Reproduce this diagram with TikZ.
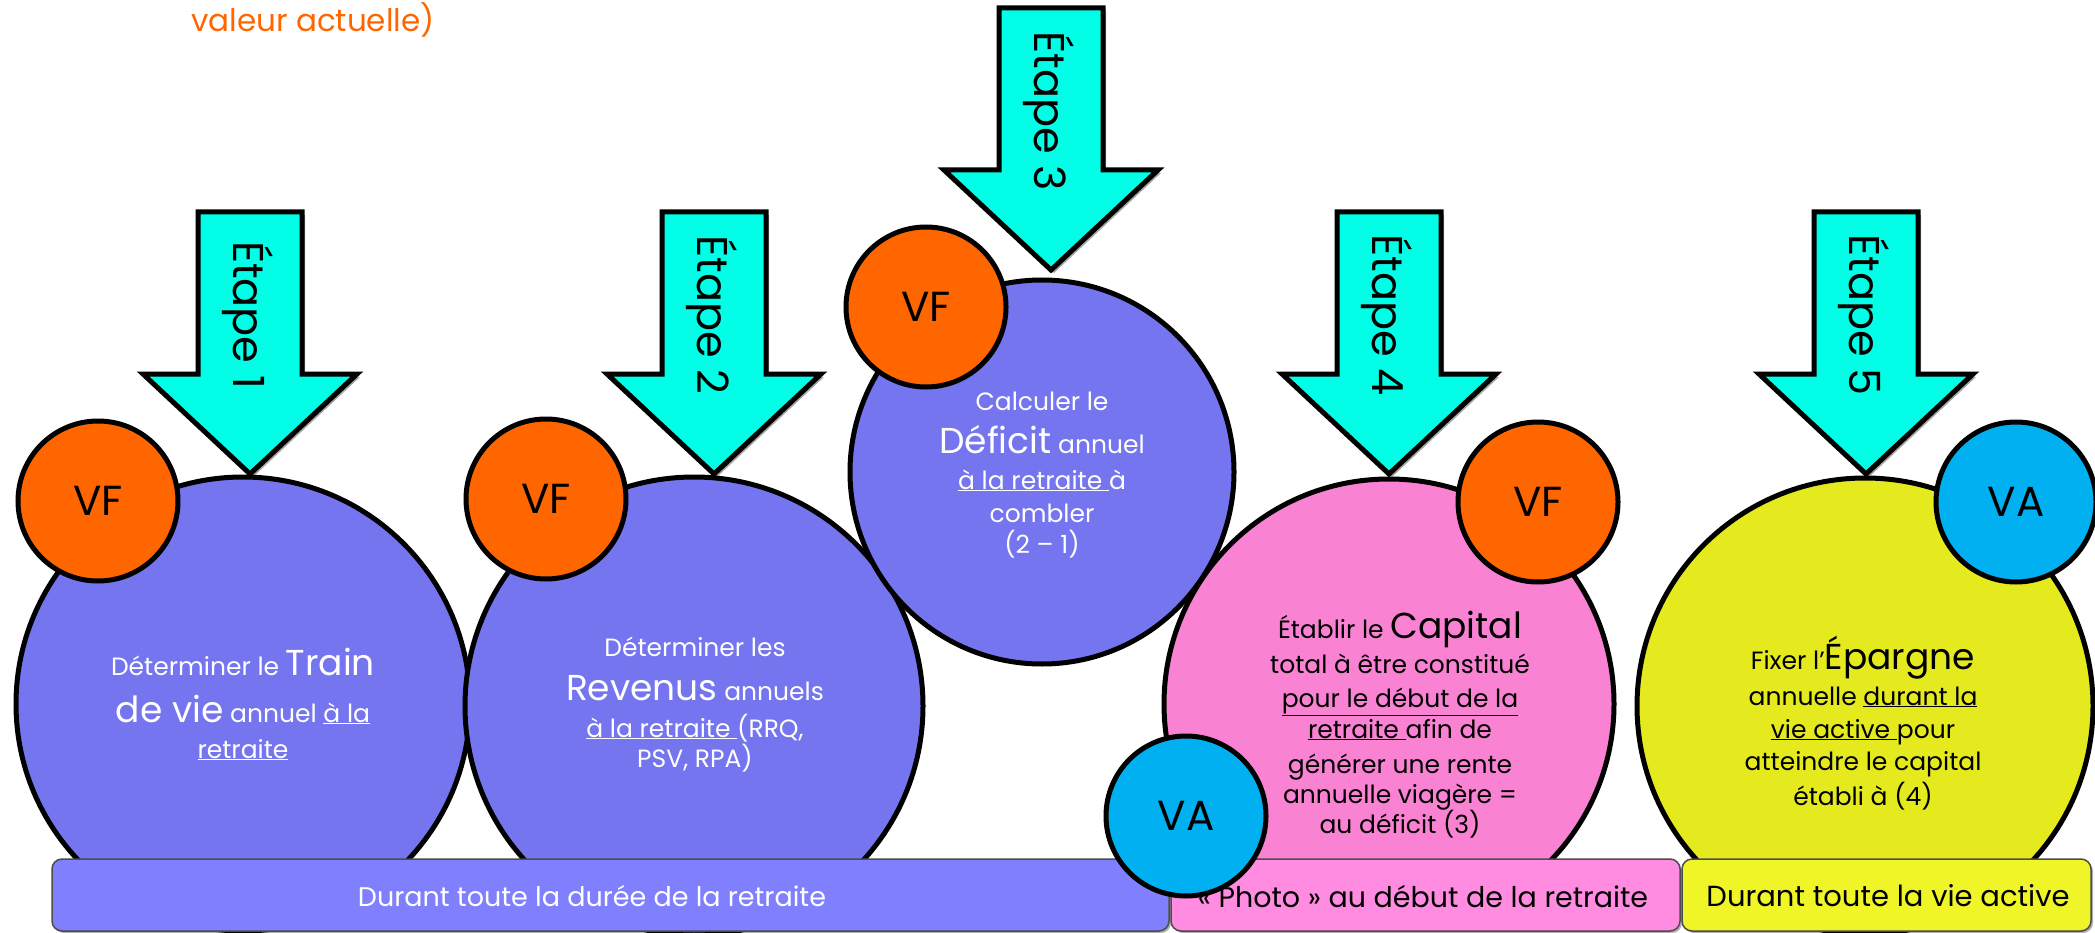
\documentclass[tikz,border=0pt]{standalone}
\usepackage{fontspec}
\setmainfont{Poppins}
\usetikzlibrary{shadows}
\definecolor{purpleC}{RGB}{117,117,240}
\definecolor{purpleBar}{RGB}{128,128,255}
\definecolor{pinkC}{RGB}{250,130,210}
\definecolor{pinkBar}{RGB}{255,140,225}
\definecolor{yellowC}{RGB}{228,234,30}
\definecolor{yellowBar}{RGB}{240,245,40}
\definecolor{orangeC}{RGB}{255,102,0}
\definecolor{blueC}{RGB}{0,176,240}
\definecolor{cyanA}{RGB}{0,255,230}
\newcommand\myfs[1]{\fontsize{#1}{#1}\selectfont}
\newcommand\steparrow[4]{%
  \begin{scope}[shift={(#2,#3)}]
    \draw[arrowsty] (-52,0) -- (52,0) -- (52,162) -- (107,162) -- (0,262) -- (-107,162) -- (-52,162) -- cycle;
    \node[steplbl] (#1) at (-2,103) {#4};
  \end{scope}}
\begin{document}
\begin{tikzpicture}[x=1pt,y=-1pt,
  bigc/.style={circle, draw=black, line width=5pt, inner sep=0pt, minimum size=#1},
  smallc/.style={circle, draw=black, line width=5pt, inner sep=0pt, minimum size=160pt, font=\myfs{42}},
  arrowsty/.style={draw=black, line width=5pt, fill=cyanA, line join=miter,
     drop shadow={shadow xshift=3pt, shadow yshift=-3pt, opacity=0.35, fill=black}},
  steplbl/.style={rotate=-90, inner sep=0pt, font=\myfs{43}},
  barsty/.style={draw=black!70, line width=1.5pt, rounded corners=10pt, minimum height=72pt, inner sep=0pt,
     drop shadow={shadow xshift=2pt, shadow yshift=-2pt, opacity=0.3, fill=black}},
  bartxt/.style={inner sep=0pt},
  ctxt/.style={anchor=base, inner sep=0pt, font=\myfs{25}},
]
\useasboundingbox (0,0) rectangle (2095,933);
\fill[white] (0,0) rectangle (2095,933);

% top text
\node[anchor=base west, inner sep=0pt, text=orangeC, font=\myfs{31}] (va) at (191,32) {valeur actuelle)};

% big circles
\node[bigc=454pt, fill=purpleC] (c1) at (243,704) {};
\node[bigc=458pt, fill=purpleC] (c2) at (694,706) {};
\node[bigc=384pt, fill=purpleC] (c3) at (1042,472) {};
\node[bigc=450pt, fill=pinkC] (c4) at (1389,704) {};
\node[bigc=456pt, fill=yellowC] (c5) at (1865,706) {};

% arrows
\steparrow{e1}{250}{212}{Étape 1}
\steparrow{e2}{714}{212}{Étape 2}
\steparrow{e3}{1051}{8}{Étape 3}
\steparrow{e4}{1389}{212}{Étape 4}
\steparrow{e5}{1866}{212}{Étape 5}

% bars
\node[barsty, fill=purpleBar, minimum width=1117pt] (b1) at (610.5,895) {};
\node[barsty, fill=pinkBar, minimum width=509pt] (b2) at (1425.5,895) {};
\node[barsty, fill=yellowBar, minimum width=409pt] (b3) at (1886.5,895) {};
\node[bartxt, text=white, font=\myfs{27}] (b1t) at (592,896) {Durant toute la durée de la retraite};
\node[bartxt, font=\myfs{28.5}] (b2t) at (1423,896) {« Photo » au début de la retraite};
\node[bartxt, font=\myfs{29}] (b3t) at (1888,896) {Durant toute la vie active};

% small circles
\node[smallc, fill=orangeC] (vf1) at (98,501) {VF};
\node[smallc, fill=orangeC] (vf2) at (546,499) {VF};
\node[smallc, fill=orangeC] (vf3) at (926,307) {VF};
\node[smallc, fill=orangeC] (vf4) at (1538,502) {VF};
\node[smallc, fill=blueC] (va4) at (1186,816) {VA};
\node[smallc, fill=blueC] (va5) at (2016,502) {VA};

% circle 1 text
\begin{scope}[every node/.style={ctxt, text=white}]
\node (t1a) at (243,675) {Déterminer le {\myfs{36}Train}};
\node (t1b) at (243,722) {{\myfs{36}de vie} annuel \underline{à la}};
\node (t1c) at (243,758) {\underline{retraite}};
% circle 2 text
\node (t2a) at (695,656) {Déterminer les};
\node (t2b) at (695,700) {{\myfs{36}Revenus} annuels};
\node (t2c) at (695,737) {\underline{à la retraite }(RRQ,};
\node (t2d) at (695,767) {PSV, RPA)};
% circle 3 text
\node (t3a) at (1042,410) {Calculer le};
\node (t3b) at (1042,453) {{\myfs{36}Déficit} annuel};
\node (t3c) at (1042,489) {\underline{à la retraite }à};
\node (t3d) at (1042,522) {combler};
\node (t3e) at (1042,553) {(2 – 1)};
\end{scope}
% circle 4 text
\begin{scope}[every node/.style={ctxt, text=black}]
\node (t4a) at (1400,638) {Établir le {\myfs{36}Capital}};
\node (t4b) at (1400,673) {total à être constitué};
\node (t4c) at (1400,707) {\underline{pour le début de la}};
\node (t4d) at (1400,738) {\underline{retraite }afin de};
\node (t4e) at (1400,773) {générer une rente};
\node (t4f) at (1400,803) {annuelle viagère =};
\node (t4g) at (1400,833) {au déficit (3)};
% circle 5 text
\node (t5a) at (1863,669) {Fixer l’{\myfs{36}Épargne}};
\node (t5b) at (1863,705) {annuelle \underline{durant la}};
\node (t5c) at (1863,738) {\underline{vie active }pour};
\node (t5d) at (1863,770) {atteindre le capital};
\node (t5e) at (1863,805) {établi à (4)};
\end{scope}
\end{tikzpicture}
\end{document}
